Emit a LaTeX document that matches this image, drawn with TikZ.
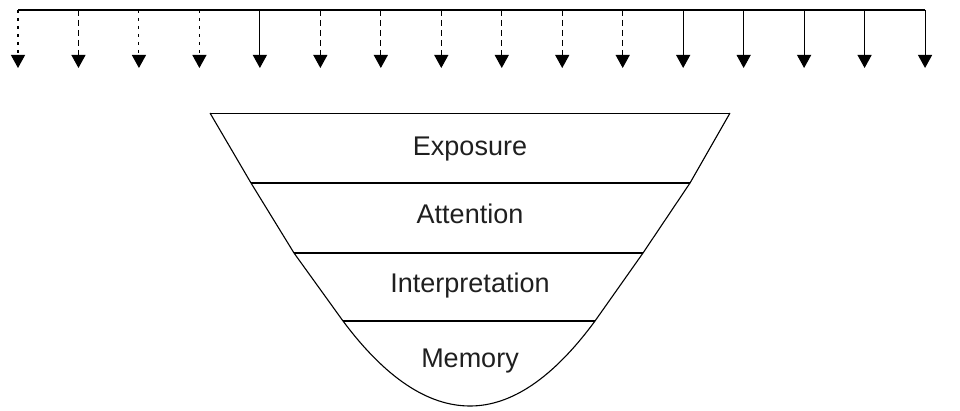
\documentclass[tikz,border=0pt]{standalone}
\usepackage{fontspec}
\setmainfont{Liberation Sans}
\usetikzlibrary{arrows.meta}
\begin{document}
\begin{tikzpicture}[x=1pt,y=1pt,
  arrline/.style={line width=1.1pt,-{Triangle[width=14pt,length=13pt]}},
  dashedarr/.style={arrline,dash pattern=on 6pt off 4pt},
  dottedarr/.style={arrline,dash pattern=on 3pt off 5pt},
  outline/.style={line width=1.1pt,line join=round},
  topedge/.style={line width=0.8pt},
  band/.style={line width=1.4pt},
  lbl/.style={font=\fontsize{27}{30}\selectfont,anchor=base,inner sep=0pt,text=black!88}]
\useasboundingbox (0,0) rectangle (960,410);
% top line with arrows
\coordinate (hl) at (18,400);
\coordinate (hr) at (925,400);
\draw[line width=1.1pt] (hl) -- (hr);
\foreach \i/\s in {1/dottedarr,2/dashedarr,3/dottedarr,4/dottedarr,5/arrline,6/dashedarr,7/dashedarr,8/dashedarr,9/dashedarr,10/dashedarr,11/dashedarr,12/arrline,13/arrline,14/arrline,15/arrline,16/arrline}{
  \pgfmathsetmacro\xx{18+60.47*(\i-1)}
  \coordinate (a\i) at (\xx,400);
  \coordinate (b\i) at (\xx,342);
  \draw[\s] (a\i) -- (b\i);
}
% funnel
\coordinate (TL) at (210,297);
\coordinate (TR) at (730,297);
\coordinate (L1) at (251,227);
\coordinate (R1) at (690,227);
\coordinate (L2) at (294,157);
\coordinate (R2) at (643,157);
\coordinate (L3) at (343,89);
\coordinate (R3) at (595,89);
\coordinate (B) at (470,4);
\draw[outline] (TL) -- (L1) -- (L2) -- (L3)
  .. controls (385.3,32.3) and (427.7,4) .. (B)
  .. controls (511.7,4) and (553.3,32.3) .. (R3)
  -- (R2) -- (R1) -- (TR);
\draw[topedge] (TL) -- (TR);
\draw[band] (L1) -- (R1);
\draw[band] (L2) -- (R2);
\draw[band] (L3) -- (R3);
% labels
\node[lbl] (exp) at (470,254) {Exposure};
\node[lbl] (att) at (470,186) {Attention};
\node[lbl] (int) at (470,118) {Interpretation};
\node[lbl] (mem) at (470,43) {Memory};
\end{tikzpicture}
\end{document}
